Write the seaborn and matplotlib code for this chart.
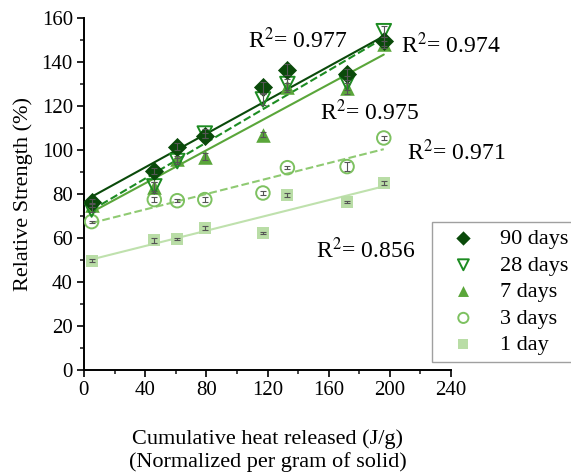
import numpy as np
import matplotlib
matplotlib.use("Agg")
import matplotlib.pyplot as plt
import seaborn as sns

# -------------------------------
# data
# -------------------------------
heat = [5, 46, 61, 79, 117, 133, 172, 196]

strength_90d = [76.5, 90.5, 101.5, 106.5, 128.5, 136.5, 134.5, 149.5]
strength_28d = [73, 83.5, 95, 107.5, 123, 130, 130.5, 154]
strength_7d = [75, 83, 96, 97, 107, 128.5, 128, 148]
strength_3d = [67.5, 77.5, 77, 77.5, 80.5, 92, 92.5, 105.5]
strength_1d = [49.8, 59, 59.5, 64.5, 62.5, 79.5, 76.5, 85]

err_90d = [1.2, 1.5, 1.5, 1.2, 2.5, 2.5, 2.5, 2.0]
err_28d = [1.0, 2.0, 1.5, 2.0, 2.5, 2.5, 3.0, 2.5]
err_7d = [1.0, 2.5, 1.5, 1.5, 1.0, 2.0, 2.5, 1.5]
err_3d = [0.5, 1.2, 0.8, 1.2, 1.0, 0.8, 2.0, 1.0]
err_1d = [0.5, 1.0, 0.5, 1.0, 0.5, 1.0, 0.5, 1.0]

labels = ["90 days", "28 days", "7 days", "3 days", "1 day"]
r2_texts = ["0.977", "0.974", "0.975", "0.971", "0.856"]
r2_pos = [(107, 150), (207, 147.5), (154, 117), (211, 99), (152, 54.5)]

# -------------------------------
# style
# -------------------------------
sns.set_style("ticks")
plt.rcParams["font.family"] = ["Liberation Serif", "DejaVu Serif"]
plt.rcParams["mathtext.fontset"] = "stix"
plt.rcParams["text.color"] = "black"
plt.rcParams["axes.labelcolor"] = "black"

fig = plt.figure(figsize=(5.71, 4.74), dpi=100)
ax = fig.add_axes([0.147, 0.219, 0.643, 0.743])

series = [
    # label, y, err, marker, size, color, filled, linestyle, line color
    ("1 day", strength_1d, err_1d, "s", 85, "#b9dda6", True, "-", "#bfe1ad"),
    ("3 days", strength_3d, err_3d, "o", 95, "#7dc160", False, "--", "#8fca72"),
    ("7 days", strength_7d, err_7d, "^", 110, "#5aa63a", True, "-", "#5aa63a"),
    ("28 days", strength_28d, err_28d, "v", 110, "#1d8c22", False, "--", "#1d8c22"),
    ("90 days", strength_90d, err_90d, "D", 95, "#0a4a0a", True, "-", "#0a4a0a"),
]

for lab, y, e, mk, sz, col, filled, ls, lcol in series:
    skw = dict(s=sz, alpha=1, zorder=3)
    if filled:
        skw["color"] = col
        skw["linewidths"] = 0
    else:
        skw["facecolors"] = "none"
        skw["edgecolors"] = col
        skw["linewidths"] = 1.4
    sns.regplot(x=heat, y=y, ax=ax, ci=None, color=col, label=lab, marker=mk,
                scatter_kws=skw,
                line_kws=dict(color=lcol, linestyle=ls, linewidth=1.5, zorder=2))
    ax.errorbar(heat, y, yerr=e, fmt="none", ecolor="#555555",
                elinewidth=0.8, capsize=2.5, capthick=0.8, zorder=4)

for txt, (tx, ty) in zip(r2_texts, r2_pos):
    ax.text(tx, ty, "R$^{2}$= " + txt, fontsize=17, ha="left", va="center")

ax.set_xlim(0, 240)
ax.set_ylim(0, 160)
ax.set_xticks(np.arange(0, 241, 40))
ax.set_xticks(np.arange(0, 241, 20), minor=True)
ax.set_yticks(np.arange(0, 161, 20))
ax.set_yticks(np.arange(0, 161, 10), minor=True)
ax.tick_params(which="major", direction="out", length=5, width=1.2,
               labelsize=15, colors="black", pad=3)
ax.tick_params(which="minor", direction="out", length=3, width=1.2)
for s in ["left", "bottom"]:
    ax.spines[s].set_linewidth(1.4)
    ax.spines[s].set_color("black")
sns.despine(ax=ax)

ax.set_xlabel("Cumulative heat released (J/g)\n(Normalized per gram of solid)",
              fontsize=16, labelpad=21, linespacing=1.2)
ax.set_ylabel("Relative Strength (%)", fontsize=16, labelpad=6)

handles, labs = ax.get_legend_handles_labels()
order = [labs.index(l) for l in labels]
leg = fig.legend([handles[i] for i in order], [labs[i] for i in order],
                 loc="upper left", bbox_to_anchor=(0.757, 0.532),
                 bbox_transform=fig.transFigure, fontsize=16,
                 frameon=True, fancybox=False, edgecolor="#888888",
                 labelspacing=0.27, handletextpad=0.55, borderpad=0.3,
                 handlelength=2.2, borderaxespad=0, markerscale=0.75)
leg.get_frame().set_linewidth(1.0)

fig.savefig("out.png", dpi=100)
